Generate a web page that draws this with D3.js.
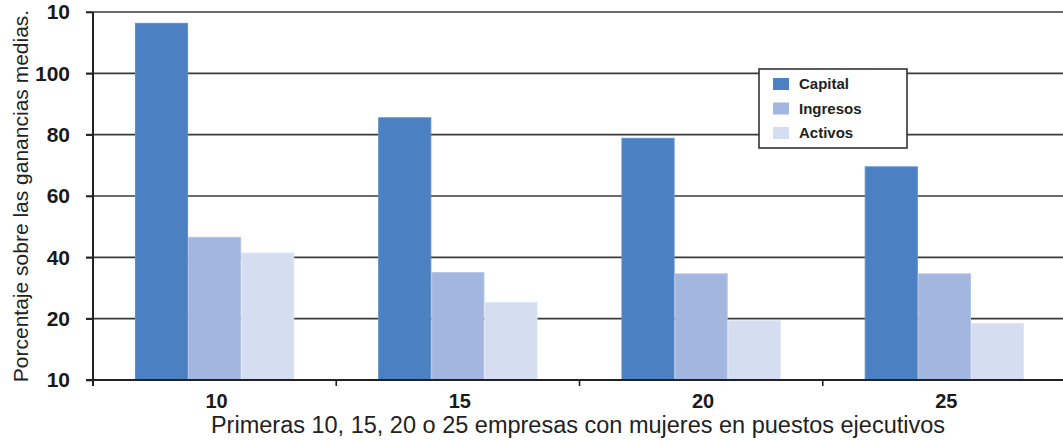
<!DOCTYPE html>
<html>
<head>
<meta charset="utf-8">
<script src="https://cdn.jsdelivr.net/npm/d3@7"></script>
<style>
  body { margin: 0; background: #fff; }
  svg { display: block; font-family: "Liberation Sans", Arial, sans-serif; }
</style>
</head>
<body>
<div id="chart"></div>
<script>
// chart data
var categories = ['10', '15', '20', '25'];
var seriesNames = ['Capital', 'Ingresos', 'Activos'];
var capital = [116.3, 85.5, 78.8, 69.5];
var ingresos = [46.5, 35.0, 34.6, 34.6];
var activos = [41.4, 25.3, 19.3, 18.4];
var yTickValues = [0, 20, 40, 60, 80, 100, 120];
var yTickLabels = ['10', '20', '40', '60', '80', '100', '10'];

var colors = ['#4b80c3', '#a3b6df', '#d5ddf0'];
var edges = ['#5c8dcb', '#b3c3e6', '#dfe5f4'];

var svgWidth = 1063;
var svgHeight = 440;

var svg = d3.select('#chart')
  .append('svg')
  .attr('width', svgWidth)
  .attr('height', svgHeight);

// scales
var yScale = d3.scaleLinear()
  .domain([0, 120])
  .range([380, 12]);

var xScale = d3.scaleBand()
  .domain(categories)
  .range([93, 1066])
  .paddingInner(0)
  .paddingOuter(0);

var xSub = d3.scaleBand()
  .domain(seriesNames)
  .range([0, xScale.bandwidth()])
  .paddingInner(0)
  .paddingOuter(0.79);

// gridlines behind bars
svg.append('g')
  .selectAll('line')
  .data(yTickValues.slice(1))
  .enter()
  .append('line')
  .attr('x1', 86)
  .attr('x2', svgWidth)
  .attr('y1', d => yScale(d))
  .attr('y2', d => yScale(d))
  .attr('stroke', '#3a3a3a')
  .attr('stroke-width', 1.6);

// bars
var rows = categories.map(function(c, i) {
  return { cat: c, vals: [capital[i], ingresos[i], activos[i]] };
});

var groups = svg.append('g')
  .selectAll('g')
  .data(rows)
  .enter()
  .append('g')
  .attr('transform', d => `translate(${xScale(d.cat)},0)`);

groups.selectAll('rect')
  .data(d => d.vals.map((v, j) => ({ name: seriesNames[j], value: v, j: j })))
  .enter()
  .append('rect')
  .attr('x', d => xSub(d.name) + 0.5)
  .attr('y', d => yScale(d.value))
  .attr('width', xSub.bandwidth() - 1)
  .attr('height', d => yScale(0) - yScale(d.value))
  .attr('fill', d => colors[d.j])
  .attr('stroke', d => edges[d.j])
  .attr('stroke-width', 1);

// y axis
var yAxis = d3.axisLeft(yScale)
  .tickValues(yTickValues)
  .tickSize(7)
  .tickPadding(16)
  .tickFormat((d, i) => yTickLabels[i]);

var yAxisG = svg.append('g')
  .attr('transform', 'translate(93,0)')
  .call(yAxis);
yAxisG.select('.domain').remove();
yAxisG.selectAll('line').attr('stroke', '#222').attr('stroke-width', 1.6);
yAxisG.selectAll('text')
  .attr('fill', '#1a1a1a')
  .style('font-size', '21px')
  .style('font-weight', 'bold')
  .style('font-family', '"Liberation Sans", Arial, sans-serif');

svg.append('line')
  .attr('x1', 93).attr('x2', 93)
  .attr('y1', 12).attr('y2', 386)
  .attr('stroke', '#222')
  .attr('stroke-width', 2);

// x axis
svg.append('line')
  .attr('x1', 86).attr('x2', svgWidth)
  .attr('y1', 380).attr('y2', 380)
  .attr('stroke', '#222')
  .attr('stroke-width', 2);

svg.append('g')
  .selectAll('line')
  .data(categories.slice(1))
  .enter()
  .append('line')
  .attr('x1', d => xScale(d))
  .attr('x2', d => xScale(d))
  .attr('y1', 380)
  .attr('y2', 386)
  .attr('stroke', '#222')
  .attr('stroke-width', 1.6);

svg.append('g')
  .selectAll('text')
  .data(categories)
  .enter()
  .append('text')
  .attr('x', d => xScale(d) + xScale.bandwidth() / 2 + 2)
  .attr('y', 408)
  .attr('text-anchor', 'middle')
  .attr('fill', '#1a1a1a')
  .style('font-size', '20px')
  .style('font-weight', 'bold')
  .text(d => d);

// axis titles
svg.append('text')
  .attr('x', 578)
  .attr('y', 433)
  .attr('text-anchor', 'middle')
  .attr('fill', '#222')
  .style('font-size', '23.5px')
  .text('Primeras 10, 15, 20 o 25 empresas con mujeres en puestos ejecutivos');

svg.append('text')
  .attr('transform', 'translate(28,196) rotate(-90)')
  .attr('text-anchor', 'middle')
  .attr('fill', '#222')
  .style('font-size', '21px')
  .text('Porcentaje sobre las ganancias medias.');

// legend
var legend = svg.append('g');
legend.append('rect')
  .attr('x', 759)
  .attr('y', 69)
  .attr('width', 148)
  .attr('height', 79)
  .attr('fill', '#fff')
  .attr('stroke', '#333')
  .attr('stroke-width', 1.6);

var items = legend.selectAll('g.item')
  .data(seriesNames)
  .enter()
  .append('g')
  .attr('class', 'item')
  .attr('transform', (d, i) => `translate(773,${78 + i * 24.5})`);

items.append('rect')
  .attr('width', 16)
  .attr('height', 12)
  .attr('fill', (d, i) => colors[i]);

items.append('text')
  .attr('x', 26)
  .attr('y', 11)
  .attr('fill', '#222')
  .style('font-size', '15px')
  .style('font-weight', 'bold')
  .text(d => d);
</script>
</body>
</html>
